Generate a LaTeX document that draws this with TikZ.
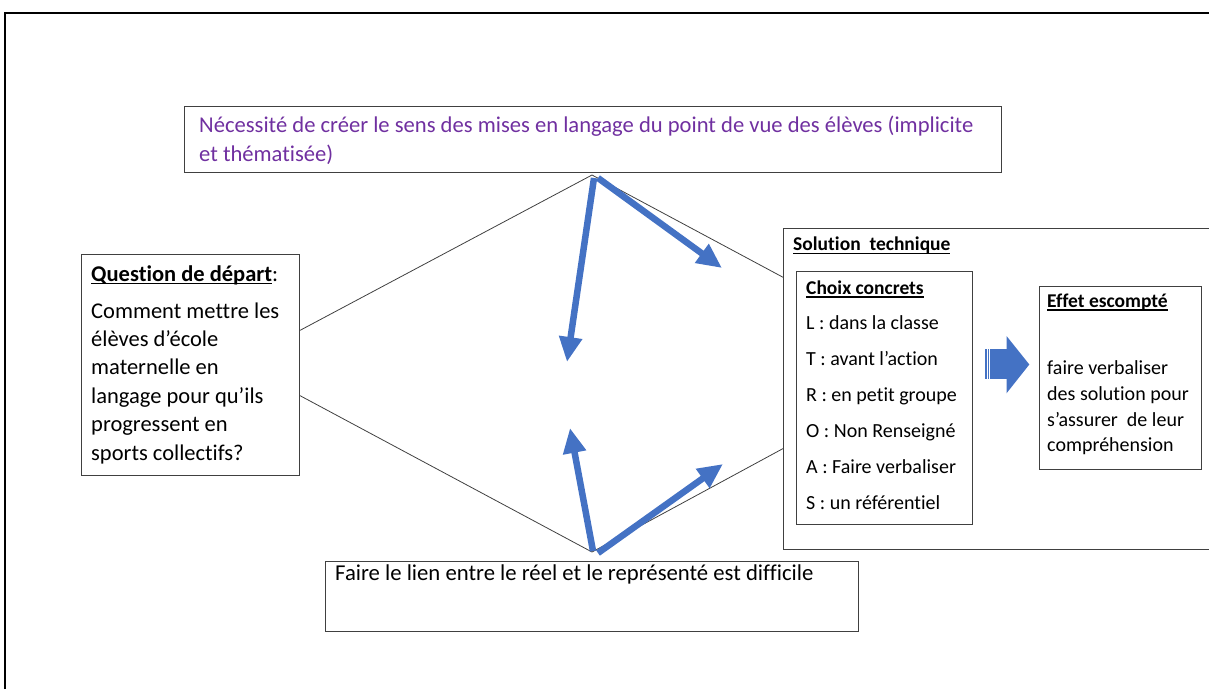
\documentclass[tikz,border=0pt]{standalone}
\usepackage{fontspec}
\setmainfont{Carlito}[Ligatures=NoCommon]
\usetikzlibrary{positioning, calc, arrows.meta}

\definecolor{flowblue}{HTML}{4472C4}
\definecolor{needpurple}{HTML}{7030A0}
\definecolor{edgegray}{HTML}{404040}

% Word-like underline: fixed distance below the baseline
\newcommand{\ultext}[1]{\setbox0\hbox{#1}\rlap{\rule[-3pt]{\wd0}{1.2pt}}\box0}

\begin{document}
\begin{tikzpicture}[x=1pt, y=-1pt,
    frame/.style={draw=edgegray, line width=1pt, inner sep=0pt, anchor=north west},
    bodytext/.style={inner sep=0pt, align=left, anchor=north west},
    titletext/.style={inner sep=0pt, align=left, font=\fontsize{19.5}{24}\selectfont\bfseries},
    flow/.style={draw=flowblue, line width=6.5pt, -{Triangle[length=25pt, width=22pt]}},
    link/.style={draw=edgegray, line width=0.8pt}
]
    \useasboundingbox (0,0) rectangle (1209,689);

    % page frame
    \draw[line width=1.5pt] (5,689) -- (5,13) -- (1212,13);

    % top box
    \node[frame, minimum width=817, minimum height=66] (need) at (184,106) {};
    \node[bodytext, text=needpurple, font=\fontsize{22.6}{29.5}\selectfont, below right=9.5pt and 15pt of need.north west] (needtext)
        {Nécessité de créer le sens des mises en langage du point de vue des élèves (implicite\\et thématisée)};

    % left box
    \node[frame, minimum width=218, minimum height=221] (quest) at (81,254) {};
    \node[bodytext, font=\fontsize{22.5}{28.4}\selectfont, below right=11.5pt and 10pt of quest.north west] (questtitle)
        {\textbf{\ultext{Question de départ}}:};
    \node[bodytext, font=\fontsize{22.5}{28.4}\selectfont, below=17pt of questtitle.south west, anchor=north west] (questtext)
        {Comment mettre les\\élèves d’école\\maternelle en\\langage pour qu’ils\\progressent en\\sports collectifs?};

    % bottom box
    \node[frame, minimum width=533, minimum height=70] (hard) at (325,561) {};
    \node[bodytext, font=\fontsize{22.7}{26}\selectfont, below right=4pt and 10pt of hard.north west] (hardtext)
        {Faire le lien entre le réel et le représenté est difficile};

    % right box and its two inner boxes
    \node[frame, minimum width=432, minimum height=321] (sol) at (783,228) {};
    \node[titletext, below right=9pt and 10pt of sol.north west] (soltitle) {\ultext{Solution~~technique}};

    \node[frame, minimum width=176, minimum height=253] (choice) at (796,271) {};
    \node[titletext, below right=9.7pt and 10pt of choice.north west] (choicetitle) {\ultext{Choix concrets}};
    \node[bodytext, font=\fontsize{20}{36}\selectfont, below=17.6pt of choicetitle.south west, anchor=north west] (choicetext)
        {L : dans la classe\\T : avant l’action\\R : en petit groupe\\O : Non Renseigné\\A : Faire verbaliser\\S : un référentiel};

    \node[frame, minimum width=162, minimum height=183] (effect) at (1039,286) {};
    \node[titletext, below right=7.8pt and 8pt of effect.north west] (effecttitle) {\ultext{Effet escompté}};
    \node[bodytext, font=\fontsize{20}{25.6}\selectfont, below=50pt of effecttitle.south west, anchor=north west] (effecttext)
        {faire verbaliser\\des solution pour\\s’assurer~~de leur\\compréhension};

    % striped block arrow
    \fill[flowblue] (985,349) rectangle (986.7,379);
    \fill[flowblue] (987.7,349) rectangle (989.2,379);
    \fill[flowblue] (990,349) rectangle (1007,379);
    \fill[flowblue] (1006.5,336) -- (1029.3,364.5) -- (1006.5,393.3) -- cycle;

    % diamond
    \coordinate (apextop) at (592,175);
    \coordinate (apexbot) at (592,552);
    \draw[link] ($(quest.north east)!0.344!(quest.south east)$) -- (apextop) -- ($(sol.north west)!0.153!(sol.south west)$);
    \draw[link] ($(quest.north east)!0.638!(quest.south east)$) -- (apexbot) -- ($(sol.north west)!0.685!(sol.south west)$);

    % blue arrows
    \coordinate (midtop) at (567,362);
    \coordinate (righttop) at (722,268);
    \coordinate (midbot) at (570,428);
    \coordinate (rightbot) at (723,464);
    \draw[flow] ([xshift=2pt, yshift=-3pt]apextop) -- (midtop);
    \draw[flow] ([xshift=6pt, yshift=-3pt]apextop) -- (righttop);
    \draw[flow] ([xshift=1pt, yshift=1pt]apexbot) -- (midbot);
    \draw[flow] ([xshift=6pt, yshift=-1pt]apexbot) -- (rightbot);
\end{tikzpicture}
\end{document}
